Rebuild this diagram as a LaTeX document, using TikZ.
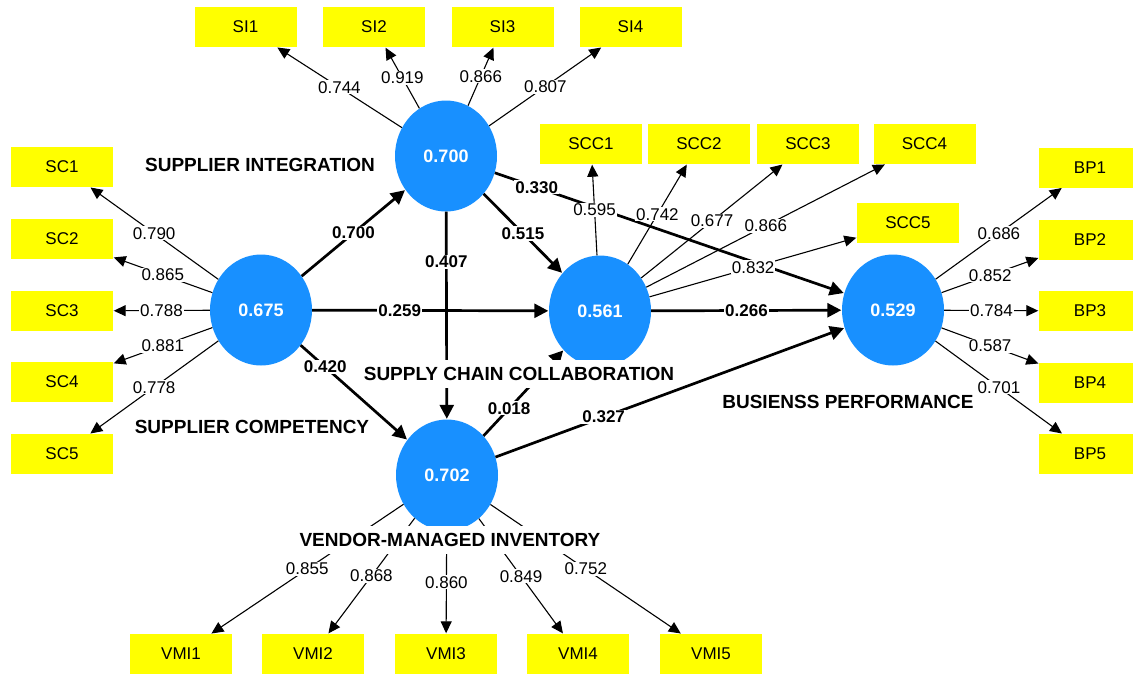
\documentclass[tikz,border=0pt]{standalone}
\usepackage{fontspec}
\setmainfont{Liberation Sans}
\usetikzlibrary{arrows.meta,shapes.geometric}
\definecolor{lvblue}{RGB}{24,144,255}
\definecolor{itemyellow}{RGB}{255,255,0}
\begin{document}
\begin{tikzpicture}[x=1pt, y=-1pt, shorten >=0.5pt,
latent node/.style={ellipse,fill=lvblue,minimum width=102pt,minimum height=111pt,inner sep=0pt,text=white,font=\fontsize{18}{20}\selectfont\bfseries},
item node/.style={rectangle,fill=itemyellow,minimum width=102pt,minimum height=40pt,inner sep=0pt,font=\fontsize{17}{20}\selectfont},
name node/.style={fill=white,inner xsep=2pt,inner ysep=7pt,font=\fontsize{19}{22}\selectfont\bfseries}]
\useasboundingbox (0,0) rectangle (1133,673);
\clip (0,0) rectangle (1133,673);
% latent variables
\node[latent node] (sc) at (261,310) {0.675};
\node[latent node] (si) at (446,156) {0.700};
\node[latent node] (scc) at (600,311) {0.561};
\node[latent node] (bp) at (893,310) {0.529};
\node[latent node] (vmi) at (447,475) {0.702};
% indicators
\node[item node] (sc1) at (62,167) {SC1};
\node[item node] (sc2) at (62,239) {SC2};
\node[item node] (sc3) at (62,311) {SC3};
\node[item node] (sc4) at (62,382) {SC4};
\node[item node] (sc5) at (62,454) {SC5};
\node[item node] (si1) at (245.5,27) {SI1};
\node[item node] (si2) at (374,27) {SI2};
\node[item node] (si3) at (502.5,27) {SI3};
\node[item node] (si4) at (630.5,27) {SI4};
\node[item node] (scc1) at (591,144) {SCC1};
\node[item node] (scc2) at (699,144) {SCC2};
\node[item node] (scc3) at (808,144) {SCC3};
\node[item node] (scc4) at (924.5,144) {SCC4};
\node[item node] (scc5) at (908,223) {SCC5};
\node[item node] (bp1) at (1090,167.5) {BP1};
\node[item node] (bp2) at (1090,239.5) {BP2};
\node[item node] (bp3) at (1090,311) {BP3};
\node[item node] (bp4) at (1090,382.5) {BP4};
\node[item node] (bp5) at (1090,454) {BP5};
\node[item node] (vmi1) at (181,654) {VMI1};
\node[item node] (vmi2) at (313,654) {VMI2};
\node[item node] (vmi3) at (446,654) {VMI3};
\node[item node] (vmi4) at (578,654) {VMI4};
\node[item node] (vmi5) at (711,654) {VMI5};
% path coefficients
\begin{scope}[every edge/.style={draw=black,line width=2.7pt}, >={Triangle[length=14pt,width=14pt]},
  every node/.style={fill=white,inner sep=1pt,font=\fontsize{17}{20}\selectfont\bfseries}]
\draw[->] (sc) edge node{0.700} (si);
\draw[->] (sc) edge node[pos=0.37]{0.259} (scc);
\draw[->] (sc) edge node[pos=0.23]{0.420} (vmi);
\draw[->] (si) edge node{0.515} (scc);
\draw[->] (si) edge node[pos=0.24]{0.407} (vmi);
\draw[->] (si) edge node[pos=0.12]{0.330} (bp);
\draw[->] (scc) edge node{0.266} (bp);
\draw[->] (vmi) edge node[pos=0.32]{0.018} (scc);
\draw[->] (vmi) edge node[pos=0.31]{0.327} (bp);
\end{scope}
% outer loadings
\begin{scope}[every edge/.style={draw=black,line width=1.1pt}, >={Triangle[length=12pt,width=11pt]},
  every node/.style={fill=white,inner sep=1pt,font=\fontsize{17}{20}\selectfont}]
\draw[->] (sc) edge node{0.790} (sc1);
\draw[->] (sc) edge node{0.865} (sc2);
\draw[->] (sc) edge node{0.788} (sc3);
\draw[->] (sc) edge node{0.881} (sc4);
\draw[->] (sc) edge node{0.778} (sc5);
\draw[->] (si) edge node{0.744} (si1);
\draw[->] (si) edge node{0.919} (si2);
\draw[->] (si) edge node{0.866} (si3);
\draw[->] (si) edge node{0.807} (si4);
\draw[->] (scc) edge node{0.595} (scc1);
\draw[->] (scc) edge node{0.742} (scc2);
\draw[->] (scc) edge node{0.677} (scc3);
\draw[->] (scc) edge node{0.866} (scc4);
\draw[->] (scc) edge node{0.832} (scc5);
\draw[->] (bp) edge node{0.686} (bp1);
\draw[->] (bp) edge node{0.852} (bp2);
\draw[->] (bp) edge node{0.784} (bp3);
\draw[->] (bp) edge node{0.587} (bp4);
\draw[->] (bp) edge node{0.701} (bp5);
\draw[->] (vmi) edge node{0.855} (vmi1);
\draw[->] (vmi) edge node{0.868} (vmi2);
\draw[->] (vmi) edge node{0.860} (vmi3);
\draw[->] (vmi) edge node{0.849} (vmi4);
\draw[->] (vmi) edge node{0.752} (vmi5);
\end{scope}
% construct names
\node[name node] (si name) at (260,165) {SUPPLIER INTEGRATION};
\node[name node] (sc name) at (252,427) {SUPPLIER COMPETENCY};
\node[name node] (scc name) at (519,374) {SUPPLY CHAIN COLLABORATION};
\node[name node] (bp name) at (848,402) {BUSIENSS PERFORMANCE};
\node[name node] (vmi name) at (450,540) {VENDOR-MANAGED INVENTORY};
\end{tikzpicture}
\end{document}
